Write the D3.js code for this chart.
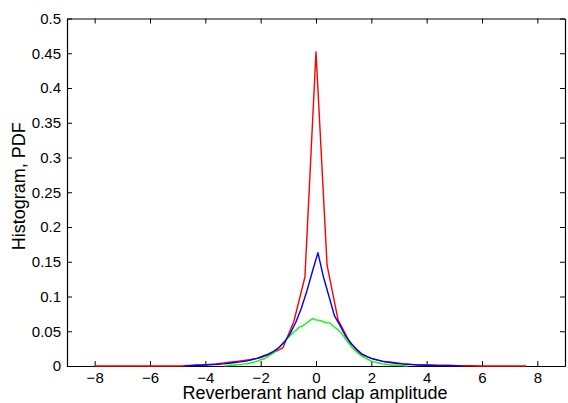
<!DOCTYPE html>
<html>
<head>
<meta charset="utf-8">
<script src="https://cdn.jsdelivr.net/npm/d3@7"></script>
<style>
	body { margin: 0; background: #fff; }
	text { font-family: "Liberation Sans", Arial, Helvetica, sans-serif; fill: #000; }
</style>
</head>
<body>
<div id="chart"></div>
<script>

// Histogram bin grids (start, step) for each curve
var redStart = -8, redStep = 0.4;
var greenStart = -3.3, greenStep = 0.1;
var blueStart = -4.73, blueStep = 0.2;

// Red: coarse histogram
var redValues = [
	0, 0, 0, 0, 0, 0, 0, 0,
	0.0003, 0.001, 0.002, 0.003, 0.005, 0.007, 0.009, 0.012, 0.018, 0.026,
	0.064, 0.128, 0.452, 0.145, 0.066, 0.036, 0.017, 0.011, 0.007, 0.005,
	0.003, 0.002, 0.0015, 0.001, 0.001, 0.0005, 0.0003,
	0, 0, 0, 0, 0
];

// Green: fine histogram
var greenValues = [
	0, 0.0005, 0.001, 0.001, 0.0015, 0.002, 0.002, 0.003, 0.003, 0.004,
	0.005, 0.006, 0.007, 0.009, 0.010, 0.012, 0.015, 0.017, 0.020, 0.024,
	0.028, 0.033, 0.037, 0.041, 0.045, 0.049, 0.052, 0.056, 0.057, 0.060,
	0.063, 0.066, 0.068,
	0.066, 0.066, 0.065, 0.063, 0.062, 0.062, 0.058, 0.055, 0.052, 0.048,
	0.043, 0.037, 0.032, 0.027, 0.023, 0.019, 0.016, 0.013, 0.011, 0.009,
	0.007, 0.006, 0.005, 0.004, 0.003, 0.0025, 0.002, 0.0015, 0.001, 0.001,
	0.0008, 0.0005, 0.0003, 0
];

// Blue: medium histogram
var blueValues = [
	0, 0.0005, 0.001, 0.001, 0.0015, 0.002, 0.0025, 0.003, 0.004, 0.005,
	0.006, 0.007, 0.009, 0.011, 0.014, 0.017, 0.021, 0.027, 0.035, 0.047,
	0.063, 0.083, 0.108, 0.136, 0.163, 0.128, 0.100, 0.072, 0.058, 0.043,
	0.032, 0.024, 0.017, 0.013, 0.010, 0.008, 0.006, 0.005, 0.004, 0.003,
	0.0025, 0.002, 0.0015, 0.001, 0.001, 0.0008, 0.0006, 0.0005, 0.0003, 0.0002,
	0
];

var xTicks = [-8, -6, -4, -2, 0, 2, 4, 6, 8];
var yTicks = [0, 0.05, 0.1, 0.15, 0.2, 0.25, 0.3, 0.35, 0.4, 0.45, 0.5];
var xLabel = 'Reverberant hand clap amplitude';
var yLabel = 'Histogram, PDF';


var width = 568, height = 403;
var margin = {top: 18.5, right: 3, bottom: 37, left: 67};

var svg = d3.select('#chart').append('svg')
	.attr('width', width)
	.attr('height', height);

var x = d3.scaleLinear()
	.domain([-9, 9])
	.range([margin.left, width - margin.right]);

var y = d3.scaleLinear()
	.domain([0, 0.5])
	.range([height - margin.bottom, margin.top]);

var tickLen = 5;

// Axes, MATLAB style: inward ticks mirrored on all four sides
svg.append('g')
	.attr('transform', 'translate(0,' + y(0) + ')')
	.call(d3.axisBottom(x).tickValues(xTicks).tickSizeInner(-tickLen).tickSizeOuter(0).tickPadding(6))
	.call(styleAxis);

svg.append('g')
	.attr('transform', 'translate(0,' + y(0.5) + ')')
	.call(d3.axisTop(x).tickValues(xTicks).tickSizeInner(-tickLen).tickSizeOuter(0).tickFormat(''))
	.call(styleAxis);

svg.append('g')
	.attr('transform', 'translate(' + x(-9) + ',0)')
	.call(d3.axisLeft(y).tickValues(yTicks).tickSizeInner(-tickLen).tickSizeOuter(0).tickPadding(6)
		.tickFormat((d) => d3.format('')(+d.toFixed(2))))
	.call(styleAxis);

svg.append('g')
	.attr('transform', 'translate(' + x(9) + ',0)')
	.call(d3.axisRight(y).tickValues(yTicks).tickSizeInner(-tickLen).tickSizeOuter(0).tickFormat(''))
	.call(styleAxis);

function styleAxis(g) {
	g.select('.domain').attr('stroke', '#000').attr('stroke-width', 1.2);
	g.selectAll('.tick line').attr('stroke', '#000').attr('stroke-width', 1);
	g.selectAll('.tick text').style('font-size', '15px').attr('fill', '#000');
}


// Curves
var line = d3.line()
	.x((d) => x(d.x))
	.y((d) => y(d.y));

function toPoints(start, step, values) {
	return values.map((v, i) => ({x: start + i * step, y: v}));
}

var series = [
	{color: '#ff0000', pts: toPoints(redStart, redStep, redValues)},
	{color: '#00ff00', pts: toPoints(greenStart, greenStep, greenValues)},
	{color: '#0000ff', pts: toPoints(blueStart, blueStep, blueValues)}
];

svg.append('g').selectAll('path')
	.data(series)
	.enter()
	.append('path')
	.attr('fill', 'none')
	.attr('stroke', (d) => d.color)
	.attr('stroke-width', 1.4)
	.attr('stroke-linejoin', 'round')
	.attr('d', (d) => line(d.pts));


// Labels
svg.append('text')
	.attr('x', x(0) - 1)
	.attr('y', 398.5)
	.attr('text-anchor', 'middle')
	.style('font-size', '18px')
	.text(xLabel);

svg.append('text')
	.attr('transform', 'translate(25,' + ((y(0) + y(0.5)) / 2 - 6) + ') rotate(-90)')
	.attr('text-anchor', 'middle')
	.style('font-size', '18px')
	.text(yLabel);

</script>
</body>
</html>
